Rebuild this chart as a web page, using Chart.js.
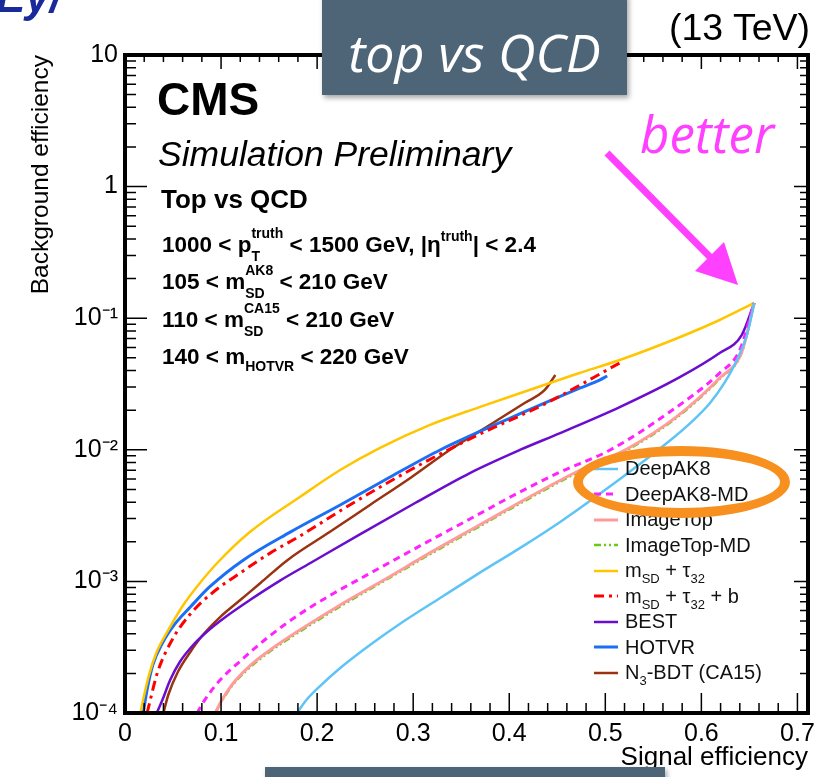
<!DOCTYPE html>
<html>
<head>
<meta charset="utf-8">
<script src="https://cdn.jsdelivr.net/npm/chart.js@4.4.1/dist/chart.umd.min.js"></script>
<style>
  body { margin: 0; background: #fff; }
  #wrap { position: relative; width: 840px; height: 777px; overflow: hidden; font-family: "Liberation Sans", Arial, sans-serif; }
  #wrap canvas { position: absolute; left: 0; top: 0; }
  .t { position: absolute; white-space: nowrap; color: #000; line-height: 1; }
  .b { font-weight: bold; }
  .ss { position: relative; display: inline-block; font-size: 14px; line-height: 1; }
  .ss .up { position: relative; top: -14px; }
  .ss .dn { position: absolute; left: 0; top: 9px; }
  .sb { font-size: 14px; position: relative; top: 7px; }
  .sp { font-size: 14px; position: relative; top: -11px; }
  .slate { position: absolute; background: #4e6578; box-shadow: 2px 3px 5px rgba(0,0,0,0.35); }
  .gill { font-family: "Open Sans", "DejaVu Sans", sans-serif; font-style: italic; }
  #legend { position: absolute; left: 594px; top: 456px; font-size: 20px; color: #111; }
  .lrow { height: 25.5px; display: flex; align-items: center; white-space: nowrap; }
  .lrow svg { margin-right: 7px; }
  .ls { font-size: 13px; position: relative; top: 6px; }
  #ellipse { position: absolute; left: 573px; top: 446px; width: 217px; height: 72px; box-sizing: border-box;
             border: 10px solid #f7901e; border-radius: 50%; }
</style>
</head>
<body>
<div id="wrap">
  <canvas id="c" width="840" height="777"></canvas>

  <div class="t b" style="left:-4px;top:-25px;font-size:44px;color:#1b2a9b;font-style:italic;">Ey/</div>

  <div class="t b" style="left:157px;top:76px;font-size:46px;">CMS</div>
  <div class="t" style="left:158px;top:137px;font-size:35.5px;font-style:italic;">Simulation Preliminary</div>
  <div class="t b" style="left:161px;top:186px;font-size:26px;">Top vs QCD</div>
  <div class="t b" style="left:162px;top:234px;font-size:22.5px;">1000 &lt; p<span class="ss"><span class="up">truth</span><span class="dn">T</span></span> &lt; 1500 GeV, |η<span class="sp">truth</span>| &lt; 2.4</div>
  <div class="t b" style="left:162px;top:271px;font-size:22.5px;">105 &lt; m<span class="ss"><span class="up">AK8</span><span class="dn">SD</span></span> &lt; 210 GeV</div>
  <div class="t b" style="left:162px;top:309px;font-size:22.5px;">110 &lt; m<span class="ss"><span class="up">CA15</span><span class="dn">SD</span></span> &lt; 210 GeV</div>
  <div class="t b" style="left:162px;top:346px;font-size:22.5px;">140 &lt; m<span class="sb">HOTVR</span> &lt; 220 GeV</div>

  <div class="t" style="right:30px;top:9px;font-size:37.5px;">(13 TeV)</div>

  <div id="legend"></div>
  <div id="ellipse"></div>

  <div class="t gill" style="left:640px;top:108px;font-size:51px;color:#ff40ff;">better</div>
  <svg style="position:absolute;left:0;top:0" width="840" height="777">
    <line x1="607" y1="153" x2="713" y2="260" stroke="#ff40ff" stroke-width="7"/>
    <polygon points="738,285 695,271 724,242" fill="#ff40ff"/>
  </svg>

  <div class="slate" style="left:322px;top:-6px;width:305px;height:101px;">
    <div class="gill" style="position:absolute;left:0;width:305px;top:32px;text-align:center;font-size:52px;line-height:1;color:#fff;">top vs QCD</div>
  </div>
  <div class="slate" style="left:265px;top:767px;width:400px;height:20px;"></div>
</div>

<script>
const FONT = '"Liberation Sans", Arial, sans-serif';

// axis ticks
const xTickValues = [0, 0.1, 0.2, 0.3, 0.4, 0.5, 0.6, 0.7];
const xTickLabels = ['0', '0.1', '0.2', '0.3', '0.4', '0.5', '0.6', '0.7'];
const yTickValues = [1e-4, 1e-3, 1e-2, 1e-1, 1, 10];
const yTickLabels = ['10\u207B\u2074', '10\u207B\u00B3', '10\u207B\u00B2', '10\u207B\u00B9', '1', '10'];

// series: signal efficiency (x) vs background efficiency (y)
const deepak8X = [0.179, 0.189, 0.203, 0.224, 0.255, 0.286, 0.328, 0.369, 0.411, 0.453, 0.494, 0.536, 0.567, 0.591, 0.609, 0.624, 0.638, 0.648, 0.655];
const deepak8Y = [1.0e-4, 1.26e-4, 1.60e-4, 2.20e-4, 3.29e-4, 4.75e-4, 7.48e-4, 1.16e-3, 1.79e-3, 2.83e-3, 4.61e-3, 7.80e-3, 1.17e-2, 1.66e-2, 2.27e-2, 3.22e-2, 4.98e-2, 7.72e-2, 0.1305];

const deepak8mdX = [0.075, 0.085, 0.099, 0.120, 0.148, 0.182, 0.216, 0.252, 0.307, 0.359, 0.411, 0.453, 0.505, 0.567, 0.619, 0.640, 0.655];
const deepak8mdY = [1.0e-4, 1.32e-4, 1.78e-4, 2.48e-4, 3.72e-4, 5.65e-4, 8.02e-4, 1.12e-3, 1.86e-3, 2.98e-3, 4.78e-3, 6.78e-3, 9.97e-3, 1.94e-2, 3.83e-2, 5.73e-2, 0.1305];

const imagetopX = [0.094, 0.101, 0.112, 0.130, 0.151, 0.182, 0.224, 0.269, 0.317, 0.369, 0.421, 0.474, 0.522, 0.574, 0.619, 0.642, 0.655];
const imagetopY = [1.0e-4, 1.26e-4, 1.66e-4, 2.28e-4, 3.01e-4, 4.27e-4, 6.62e-4, 1.02e-3, 1.64e-3, 2.68e-3, 4.38e-3, 7.02e-3, 1.01e-2, 1.78e-2, 3.51e-2, 5.54e-2, 0.1305];

const imagetopmdX = [0.094, 0.101, 0.112, 0.130, 0.151, 0.182, 0.224, 0.269, 0.317, 0.369, 0.421, 0.474, 0.522, 0.574, 0.619, 0.642, 0.655];
const imagetopmdY = [1.0e-4, 1.24e-4, 1.63e-4, 2.22e-4, 2.94e-4, 4.16e-4, 6.45e-4, 1.00e-3, 1.60e-3, 2.62e-3, 4.28e-3, 6.88e-3, 9.90e-3, 1.75e-2, 3.46e-2, 5.48e-2, 0.1305];

const msdtauX = [0.016, 0.020, 0.025, 0.033, 0.044, 0.060, 0.078, 0.096, 0.130, 0.182, 0.224, 0.265, 0.317, 0.369, 0.421, 0.473, 0.515, 0.578, 0.619, 0.655];
const msdtauY = [1.0e-4, 1.37e-4, 1.95e-4, 2.91e-4, 4.13e-4, 6.50e-4, 9.72e-4, 1.38e-3, 2.37e-3, 4.38e-3, 7.02e-3, 1.03e-2, 1.54e-2, 2.11e-2, 2.85e-2, 3.83e-2, 4.81e-2, 7.20e-2, 9.69e-2, 0.1305];

const msdtaubX = [0.023, 0.034, 0.049, 0.068, 0.092, 0.120, 0.151, 0.182, 0.234, 0.297, 0.359, 0.439, 0.515];
const msdtaubY = [1.0e-4, 2.05e-4, 3.59e-4, 5.65e-4, 8.31e-4, 1.16e-3, 1.64e-3, 2.21e-3, 3.81e-3, 7.02e-3, 1.21e-2, 2.27e-2, 4.57e-2];

const bestX = [0.033, 0.039, 0.047, 0.057, 0.070, 0.085, 0.106, 0.130, 0.161, 0.193, 0.245, 0.302, 0.359, 0.411, 0.453, 0.515, 0.578, 0.619, 0.642, 0.655];
const bestY = [1.0e-4, 1.26e-4, 1.78e-4, 2.44e-4, 3.23e-4, 4.13e-4, 5.46e-4, 7.22e-4, 1.01e-3, 1.38e-3, 2.29e-3, 3.94e-3, 6.66e-3, 9.97e-3, 1.34e-2, 2.11e-2, 3.58e-2, 5.44e-2, 7.45e-2, 0.1305];

const hotvrX = [0.019, 0.023, 0.029, 0.039, 0.052, 0.068, 0.088, 0.123, 0.172, 0.224, 0.276, 0.328, 0.404, 0.474, 0.494, 0.502];
const hotvrY = [1.0e-4, 1.50e-4, 2.32e-4, 3.40e-4, 4.75e-4, 6.39e-4, 9.07e-4, 1.45e-3, 2.37e-3, 3.81e-3, 6.21e-3, 9.97e-3, 1.78e-2, 2.95e-2, 3.39e-2, 3.64e-2];

const n3bdtX = [0.040, 0.045, 0.055, 0.068, 0.081, 0.099, 0.120, 0.141, 0.169, 0.213, 0.255, 0.297, 0.338, 0.383, 0.416, 0.437, 0.448];
const n3bdtY = [1.0e-4, 1.37e-4, 2.05e-4, 2.91e-4, 3.91e-4, 5.36e-4, 7.22e-4, 9.72e-4, 1.45e-3, 2.37e-3, 3.81e-3, 6.11e-3, 9.97e-3, 1.60e-2, 2.27e-2, 2.85e-2, 3.70e-2];

const seriesNames = ['DeepAK8', 'DeepAK8-MD', 'ImageTop', 'ImageTop-MD', 'mSD + tau32', 'mSD + tau32 + b', 'BEST', 'HOTVR', 'N3-BDT (CA15)'];
const legendLabels = ['DeepAK8', 'DeepAK8-MD', 'ImageTop', 'ImageTop-MD',
  'm<span class="ls">SD</span> + τ<span class="ls">32</span>',
  'm<span class="ls">SD</span> + τ<span class="ls">32</span> + b',
  'BEST', 'HOTVR', 'N<span class="ls">3</span>-BDT (CA15)'];
const seriesColors = ['#5ec4f7', '#ff22ff', '#ff9b9b', '#66cc11', '#ffc600', '#ff0000', '#6a0dcc', '#1a6ff5', '#993311'];
const seriesWidths = [2.5, 3, 3, 2.5, 2.5, 3, 2.5, 3, 2.5];
const seriesDash = [[], [7, 5], [], [7, 3, 2, 3, 2, 3], [], [10, 5, 3, 5], [], [], []];
const seriesX = [deepak8X, deepak8mdX, imagetopX, imagetopmdX, msdtauX, msdtaubX, bestX, hotvrX, n3bdtX];
const seriesY = [deepak8Y, deepak8mdY, imagetopY, imagetopmdY, msdtauY, msdtaubY, bestY, hotvrY, n3bdtY];

const datasets = seriesNames.map((name, i) => ({
  label: name,
  data: seriesX[i].map((x, j) => ({ x: x, y: seriesY[i][j] })),
  borderColor: seriesColors[i],
  borderWidth: seriesWidths[i],
  borderDash: seriesDash[i],
  fill: false
}));

// ROOT style frame with inner ticks
const frameTicks = {
  id: 'frameTicks',
  afterDatasetsDraw(chart) {
    const { ctx, chartArea: a, scales: { x, y } } = chart;
    ctx.save();
    ctx.strokeStyle = '#000';
    ctx.lineWidth = 1.5;
    ctx.beginPath();
    for (let i = 0; i <= 35; i++) {
      const px = x.getPixelForValue(i * 0.02);
      const major = i % 5 === 0;
      ctx.moveTo(px, a.bottom);
      ctx.lineTo(px, a.bottom - (major ? 20 : 10));
      ctx.moveTo(px, a.top);
      ctx.lineTo(px, a.top + (major ? 14 : 7));
    }
    for (let e = -4; e <= 1; e++) {
      for (let m = 1; m <= 9; m++) {
        const v = m * Math.pow(10, e);
        if (v > 10.0001) break;
        const py = y.getPixelForValue(v);
        const major = m === 1;
        ctx.moveTo(a.left, py);
        ctx.lineTo(a.left + (major ? 22 : 11), py);
        ctx.moveTo(a.right, py);
        ctx.lineTo(a.right - (major ? 14 : 8), py);
      }
    }
    ctx.stroke();
    ctx.lineWidth = 4;
    ctx.strokeRect(a.left, a.top, a.right - a.left, a.bottom - a.top);
    ctx.restore();
  }
};

const chart = new Chart(document.getElementById('c'), {
  type: 'line',
  data: { datasets: datasets },
  options: {
    responsive: false,
    animation: false,
    devicePixelRatio: 1,
    layout: { padding: { top: 55, right: 32, left: 0, bottom: 0 } },
    plugins: { legend: { display: false }, tooltip: { enabled: false } },
    elements: {
      point: { radius: 0 },
      line: { cubicInterpolationMode: 'monotone' }
    },
    scales: {
      x: {
        type: 'linear',
        min: 0,
        max: 0.711,
        grid: { display: false, drawTicks: false },
        border: { display: false },
        afterBuildTicks: s => { s.ticks = xTickValues.map(v => ({ value: v })); },
        afterFit: s => { s.height = 64; },
        ticks: {
          callback: (v, i) => xTickLabels[i],
          font: { family: FONT, size: 25 },
          color: '#000',
          padding: 6,
          maxRotation: 0,
          autoSkip: false
        },
        title: {
          display: true, text: 'Signal efficiency', align: 'end', color: '#000',
          font: { family: FONT, size: 26 }, padding: { top: 0, bottom: 4 }
        }
      },
      y: {
        type: 'logarithmic',
        min: 1e-4,
        max: 10,
        grid: { display: false, drawTicks: false },
        border: { display: false },
        afterBuildTicks: s => { s.ticks = yTickValues.map(v => ({ value: v })); },
        afterFit: s => { s.width = 125; },
        ticks: {
          callback: (v, i) => yTickLabels[i],
          font: { family: FONT, size: 25 },
          color: '#000',
          padding: 7,
          autoSkip: false
        },
        title: {
          display: true, text: 'Background efficiency', align: 'end', color: '#000',
          font: { family: FONT, size: 24.5 }, padding: { top: 27, bottom: 0 }
        }
      }
    }
  },
  plugins: [frameTicks]
});

// legend inside the frame, built from the datasets
const legendBox = document.getElementById('legend');
chart.data.datasets.forEach((ds, i) => {
  const row = document.createElement('div');
  row.className = 'lrow';
  row.innerHTML = '<svg width="24" height="10"><line x1="0" y1="5" x2="24" y2="5" stroke="' + ds.borderColor +
    '" stroke-width="' + ds.borderWidth + '" stroke-dasharray="' + (ds.borderDash.length ? ds.borderDash.join(' ') : 'none') +
    '"/></svg><span>' + legendLabels[i] + '</span>';
  legendBox.appendChild(row);
});
</script>
</body>
</html>
